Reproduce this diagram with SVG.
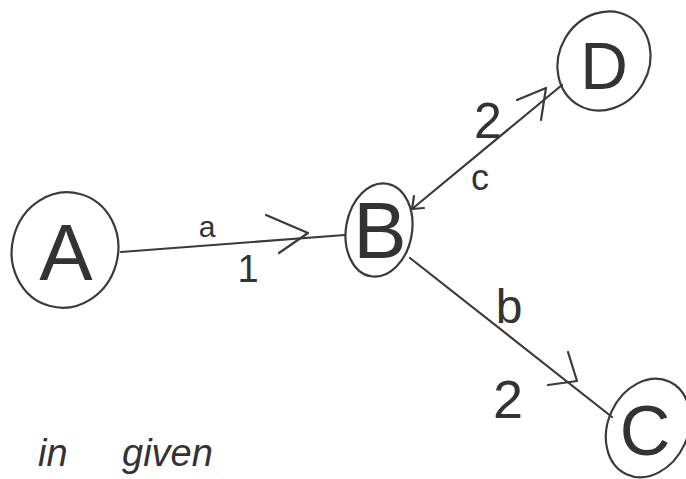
<svg xmlns="http://www.w3.org/2000/svg" width="686" height="479" viewBox="0 0 686 479">
<style>
.node{fill:none;stroke:#3a3a3a;stroke-width:2.2}
.nl{font-family:"Liberation Sans",sans-serif;fill:#333;text-anchor:middle}
.edge{fill:none;stroke:#3a3a3a;stroke-width:2.2;stroke-linecap:round;stroke-linejoin:round}
.el{font-family:"Liberation Sans",sans-serif;fill:#333;text-anchor:middle}
.note{font-family:"Liberation Sans",sans-serif;font-size:38px;font-style:italic;fill:#333}
</style>
<rect width="686" height="479" fill="#fff"/>
<g id="connectors">
  <g id="edge-a">
    <path class="edge" d="M121 252 L345 235"/>
    <path class="edge" d="M266 215 L308 233 L279 253"/>
    <text class="el" x="207" y="237" font-size="30">a</text>
    <text class="el" x="248" y="282" font-size="38">1</text>
  </g>
  <g id="edge-c">
    <path class="edge" d="M412 209 L562 85"/>
    <path class="edge" d="M517 100 L546 88 L541 120"/>
    <path class="edge" d="M414 196 L412 209 L424 208"/>
    <text class="el" x="488" y="138" font-size="50">2</text>
    <text class="el" x="480" y="190" font-size="36">c</text>
  </g>
  <g id="edge-b">
    <path class="edge" d="M410 258 L612 417"/>
    <path class="edge" d="M568 352 L577 381 L548 385"/>
    <text class="el" x="509" y="323" font-size="48">b</text>
    <text class="el" x="508" y="418" font-size="54">2</text>
  </g>
</g>
<g id="node-A">
  <ellipse class="node" cx="65" cy="250" rx="53" ry="58" transform="rotate(15 65 250)"/>
  <text class="nl" x="66" y="280" font-size="80">A</text>
</g>
<g id="node-B">
  <ellipse class="node" cx="379" cy="230" rx="33" ry="47" transform="rotate(10 379 230)"/>
  <text class="nl" x="380" y="258" font-size="80">B</text>
</g>
<g id="node-D">
  <ellipse class="node" cx="604" cy="61" rx="45" ry="51" transform="rotate(30 604 61)"/>
  <text class="nl" x="604" y="89" font-size="66">D</text>
</g>
<g id="node-C">
  <ellipse class="node" cx="648" cy="428" rx="40" ry="51" transform="rotate(25 648 428)"/>
  <text class="nl" x="645" y="455" font-size="70">C</text>
</g>
<text class="note" x="38" y="466">in</text>
<text class="note" x="122" y="466">given</text>
</svg>
